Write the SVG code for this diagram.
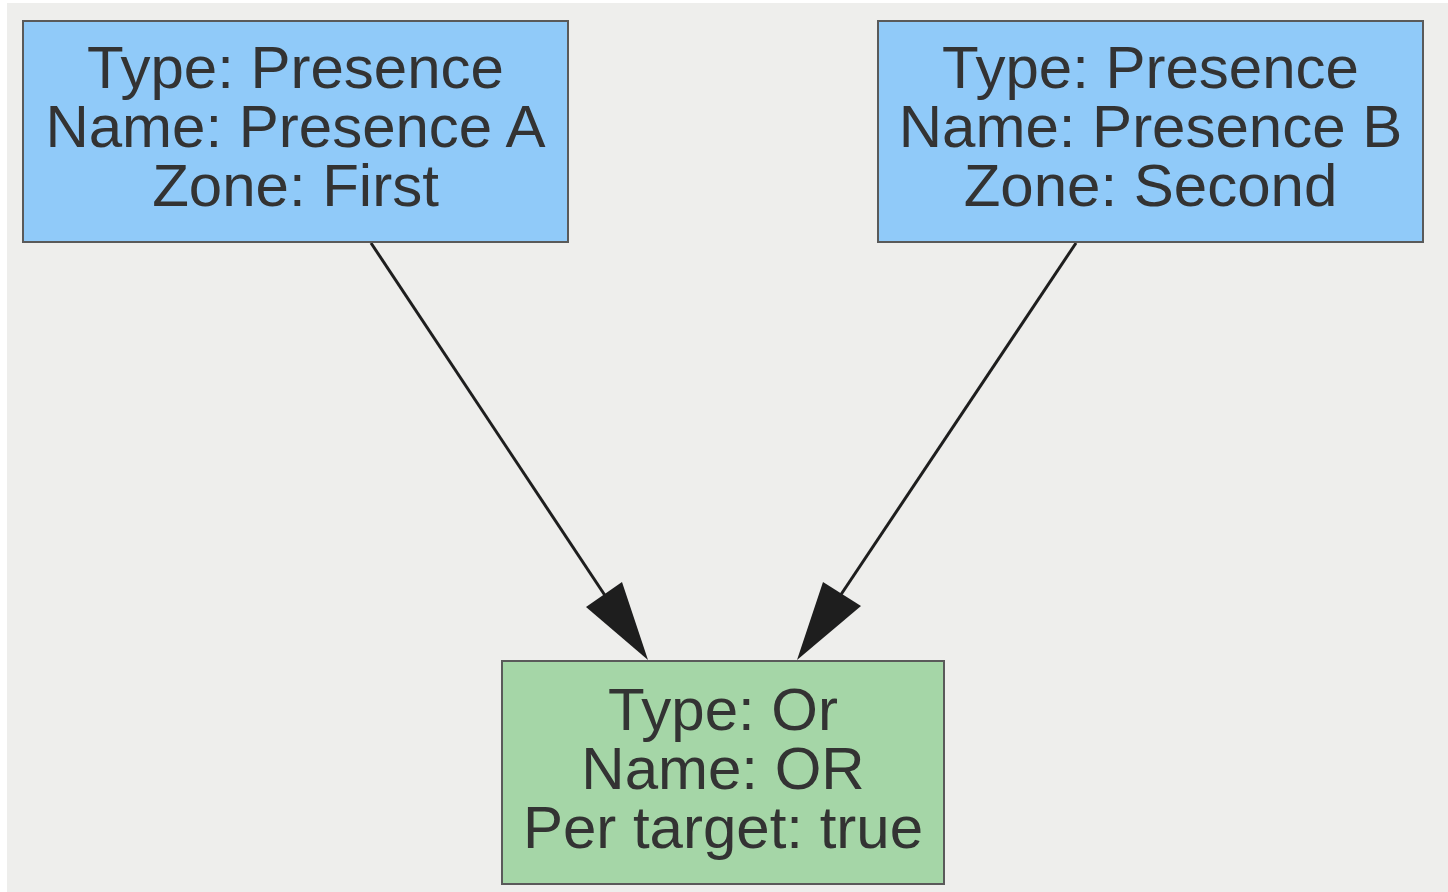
<svg xmlns="http://www.w3.org/2000/svg" width="1448" height="892" viewBox="0 0 1448 892">
<style>
.node rect{stroke:#5a5a5a;stroke-width:2}
.blue rect{fill:#90caf9}
.green rect{fill:#a5d6a7}
text{font-family:"Liberation Sans",Arial,sans-serif;font-size:60px;fill:#333333;text-anchor:middle}
.edge line{stroke:#1e1e1e;stroke-width:3}
.edge polygon{fill:#1e1e1e}
</style>
<rect x="0" y="0" width="1448" height="892" fill="#ffffff"/>
<rect x="7" y="3" width="1441" height="889" fill="#eeeeec"/>
<g id="edges" class="edge">
<g id="e1"><line x1="371" y1="243" x2="612" y2="606"/><polygon points="648,660 586,607 622,582"/></g>
<g id="e2"><line x1="1076" y1="243" x2="836" y2="602"/><polygon points="797,660 823,582 861,606"/></g>
</g>
<g id="nodeA" class="node blue">
<rect x="23" y="21" width="545" height="221"/>
<text x="295.5" y="88"><tspan x="295.5" y="88">Type: Presence</tspan><tspan x="295.5" y="147">Name: Presence A</tspan><tspan x="295.5" y="206">Zone: First</tspan></text>
</g>
<g id="nodeB" class="node blue">
<rect x="878" y="21" width="545" height="221"/>
<text x="1150.5" y="88"><tspan x="1150.5" y="88">Type: Presence</tspan><tspan x="1150.5" y="147">Name: Presence B</tspan><tspan x="1150.5" y="206">Zone: Second</tspan></text>
</g>
<g id="nodeC" class="node green">
<rect x="502" y="661" width="442" height="223"/>
<text x="723" y="730"><tspan x="723" y="730">Type: Or</tspan><tspan x="723" y="789">Name: OR</tspan><tspan x="723" y="848">Per target: true</tspan></text>
</g>
</svg>
